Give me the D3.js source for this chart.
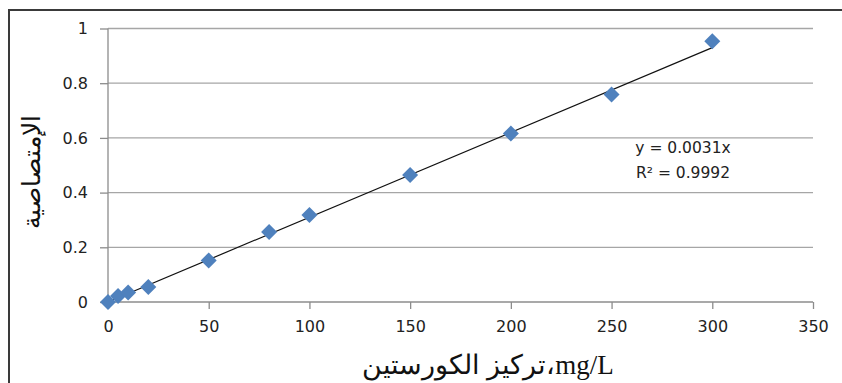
<!DOCTYPE html>
<html><head><meta charset="utf-8">
<script src="https://cdn.jsdelivr.net/npm/d3@7"></script>
<style>
html,body{margin:0;padding:0;background:#fff;}
svg{display:block;}
</style></head>
<body>
<svg id="chart" width="842" height="383"></svg>
<script>
// ---- data ----
const concentrations = [0, 5, 10, 20, 50, 80, 100, 150, 200, 250, 300];
const absorbance = [0, 0.022, 0.035, 0.055, 0.152, 0.256, 0.318, 0.464, 0.616, 0.759, 0.953];
const xTicks = [0, 50, 100, 150, 200, 250, 300, 350];
const yTicks = [0, 0.2, 0.4, 0.6, 0.8, 1];
const trendSlope = 0.0031;
const trendRange = [0, 300];
const equationLines = ["y = 0.0031x", "R² = 0.9992"];
const xTitle = "mg/L،تركيز الكورستين";
const yTitle = "الإمتصاصية";

const svg = d3.select("#chart");
const x = d3.scaleLinear().domain([0, 350]).range([108, 813]);
const y = d3.scaleLinear().domain([0, 1]).range([302, 28.5]);

// frame
svg.append("rect").attr("x", 9).attr("y", 10).attr("width", 900).attr("height", 500)
  .attr("fill", "none").attr("stroke", "#3a3a3a").attr("stroke-width", 2);

// gridlines
svg.append("g").selectAll("line").data(yTicks.filter(d => d > 0)).join("line")
  .attr("x1", x(0)).attr("x2", x(350)).attr("y1", d => y(d)).attr("y2", d => y(d))
  .attr("stroke", "#a6a6a6").attr("stroke-width", 1.3);

// axes
const yAxis = d3.axisLeft(y).tickValues(yTicks).tickSize(8).tickPadding(12).tickFormat(d3.format("~g"));
const xAxis = d3.axisBottom(x).tickValues(xTicks).tickSize(7).tickPadding(12).tickFormat(d3.format("d"));
const gy = svg.append("g").attr("transform", `translate(${x(0)},0)`).call(yAxis);
const gx = svg.append("g").attr("transform", `translate(0,${y(0)})`).call(xAxis);
[gx, gy].forEach(g => {
  g.select(".domain").attr("stroke", "#8c8c8c").attr("stroke-width", 1.3);
  g.selectAll(".tick line").attr("stroke", "#8c8c8c").attr("stroke-width", 1.3);
  g.selectAll("text").attr("fill", "#222").style("font-family", "'DejaVu Sans', Verdana, sans-serif").style("font-size", "16px");
});
gx.select(".domain").attr("d", `M${x(0)},0H${x(350)}`);
gy.select(".domain").attr("d", `M0,${y(0)}V${y(1)}`);

// trendline
svg.append("line")
  .attr("x1", x(trendRange[0])).attr("y1", y(trendSlope * trendRange[0]))
  .attr("x2", x(trendRange[1])).attr("y2", y(trendSlope * trendRange[1]))
  .attr("stroke", "#111").attr("stroke-width", 1.2);

// markers
const sym = d3.symbol().type(d3.symbolSquare).size(128);
svg.append("g").selectAll("path").data(concentrations.map((c, i) => [c, absorbance[i]])).join("path")
  .attr("d", sym)
  .attr("transform", d => `translate(${x(d[0])},${y(d[1])}) rotate(45)`)
  .attr("fill", "#4F81BD");

// equation
svg.append("g").selectAll("text").data(equationLines).join("text")
  .attr("x", 683).attr("y", (d, i) => 153 + i * 25)
  .attr("text-anchor", "middle").attr("fill", "#222")
  .style("font-family", "'DejaVu Sans', Verdana, sans-serif").style("font-size", "15.5px")
  .text(d => d);

// axis titles
svg.append("text").attr("x", 488).attr("y", 374)
  .attr("text-anchor", "middle").attr("direction", "rtl").style("unicode-bidi", "embed")
  .style("font-family", "'Liberation Serif', 'Times New Roman', serif").style("font-size", "27px")
  .attr("fill", "#111").text(xTitle);
svg.append("text").attr("transform", "translate(40,172) rotate(-90)")
  .attr("text-anchor", "middle").attr("direction", "rtl").style("unicode-bidi", "embed")
  .style("font-family", "'Liberation Serif', 'Times New Roman', serif").style("font-size", "24.5px")
  .attr("fill", "#111").text(yTitle);
</script>
</body></html>
